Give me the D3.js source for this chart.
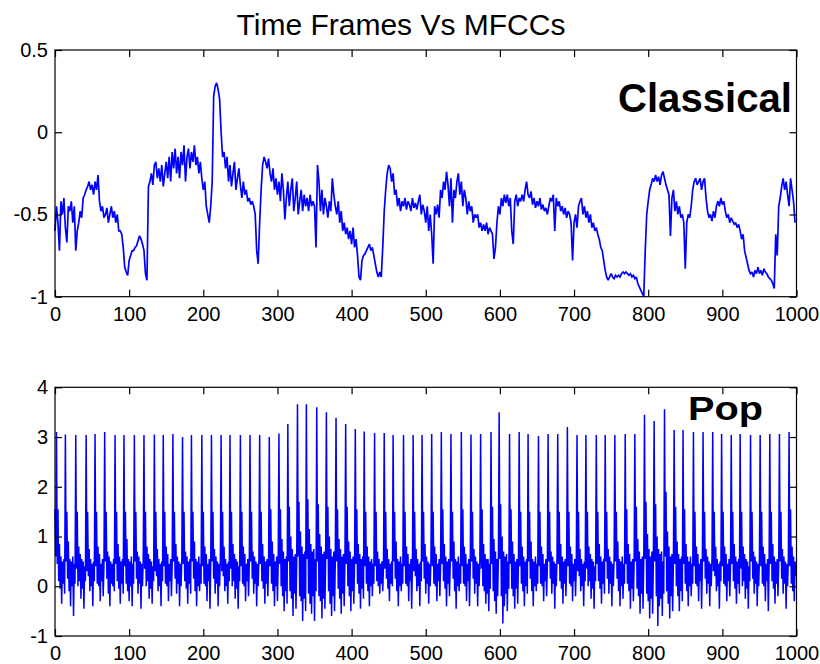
<!DOCTYPE html>
<html><head><meta charset="utf-8">
<script src="https://cdn.jsdelivr.net/npm/d3@7/dist/d3.min.js"></script>
<style>body{margin:0;background:#fff}svg{display:block}</style>
</head><body>
<script>
// ---------- data ----------
const chartTitle = "Time Frames Vs MFCCs";
const classicalStep = 2;           // classical: one sample every 2 time frames
const popStep = 1;                 // pop: one sample per time frame
const xTickValues = [0,100,200,300,400,500,600,700,800,900,1000];
const classicalTicks = [-1,-0.5,0,0.5];
const popTicks = [-1,0,1,2,3,4];
const classicalLabel = "Classical";
const popLabel = "Pop";

const classical = [
-0.60,-0.45,-0.55,-0.72,-0.42, -0.50,-0.40,-0.58,-0.67,-0.45,
-0.48,-0.42,-0.55,-0.45,-0.72, -0.60,-0.55,-0.48,-0.52,-0.40,
-0.38,-0.35,-0.33,-0.30,-0.35, -0.32,-0.38,-0.30,-0.35,-0.26,
-0.42,-0.48,-0.45,-0.52,-0.50, -0.46,-0.55,-0.50,-0.45,-0.52,
-0.48,-0.55,-0.50,-0.60,-0.60, -0.62,-0.70,-0.82,-0.85,-0.87,
-0.78,-0.75,-0.72,-0.72,-0.70, -0.69,-0.66,-0.63,-0.65,-0.68,
-0.72,-0.86,-0.90,-0.33,-0.30, -0.25,-0.32,-0.20,-0.18,-0.28,
-0.22,-0.30,-0.20,-0.33,-0.25, -0.18,-0.28,-0.15,-0.30,-0.12,
-0.22,-0.10,-0.25,-0.15,-0.28, -0.12,-0.20,-0.08,-0.30,-0.15,
-0.10,-0.22,-0.12,-0.18,-0.08, -0.20,-0.15,-0.25,-0.18,-0.28,
-0.35,-0.30,-0.45,-0.50,-0.55, -0.45,-0.30,0.22,0.28,0.30,
0.26,0.20,0.00,-0.15,-0.12, -0.22,-0.15,-0.30,-0.20,-0.33,
-0.25,-0.18,-0.35,-0.28,-0.22, -0.32,-0.40,-0.30,-0.38,-0.35,
-0.42,-0.40,-0.44,-0.42,-0.45, -0.50,-0.72,-0.80,-0.55,-0.35,
-0.20,-0.15,-0.18,-0.22,-0.16, -0.25,-0.30,-0.22,-0.35,-0.28,
-0.38,-0.30,-0.42,-0.25,-0.35, -0.53,-0.40,-0.30,-0.45,-0.35,
-0.28,-0.48,-0.40,-0.30,-0.50, -0.42,-0.35,-0.48,-0.38,-0.45,
-0.40,-0.48,-0.38,-0.45,-0.42, -0.45,-0.70,-0.20,-0.30,-0.48,
-0.35,-0.50,-0.40,-0.45,-0.52, -0.42,-0.48,-0.28,-0.38,-0.45,
-0.50,-0.42,-0.55,-0.48,-0.60, -0.55,-0.62,-0.58,-0.65,-0.60,
-0.68,-0.58,-0.70,-0.65,-0.75, -0.88,-0.90,-0.78,-0.75,-0.74,
-0.72,-0.70,-0.68,-0.72,-0.70, -0.75,-0.80,-0.85,-0.88,-0.85,
-0.88,-0.70,-0.48,-0.35,-0.25, -0.20,-0.22,-0.30,-0.25,-0.38,
-0.35,-0.45,-0.40,-0.48,-0.42, -0.45,-0.40,-0.47,-0.42,-0.44,
-0.48,-0.40,-0.46,-0.43,-0.47, -0.42,-0.38,-0.50,-0.44,-0.48,
-0.55,-0.45,-0.60,-0.50,-0.62, -0.80,-0.45,-0.50,-0.44,-0.52,
-0.35,-0.40,-0.30,-0.35,-0.24, -0.32,-0.45,-0.28,-0.55,-0.35,
-0.40,-0.30,-0.25,-0.38,-0.30, -0.45,-0.35,-0.40,-0.50,-0.42,
-0.48,-0.45,-0.55,-0.50,-0.52, -0.50,-0.58,-0.55,-0.60,-0.56,
-0.60,-0.55,-0.62,-0.58,-0.60, -0.62,-0.77,-0.70,-0.55,-0.45,
-0.50,-0.40,-0.45,-0.38,-0.43, -0.38,-0.45,-0.40,-0.60,-0.68,
-0.42,-0.38,-0.45,-0.40,-0.42, -0.38,-0.42,-0.35,-0.30,-0.38,
-0.40,-0.36,-0.44,-0.40,-0.46, -0.42,-0.45,-0.40,-0.47,-0.44,
-0.48,-0.46,-0.50,-0.45,-0.40, -0.42,-0.38,-0.60,-0.40,-0.45,
-0.42,-0.48,-0.45,-0.50,-0.46, -0.52,-0.48,-0.50,-0.55,-0.78,
-0.55,-0.50,-0.58,-0.45,-0.42, -0.40,-0.50,-0.45,-0.52,-0.48,
-0.55,-0.50,-0.58,-0.55,-0.60, -0.58,-0.62,-0.65,-0.70,-0.72,
-0.78,-0.84,-0.88,-0.90,-0.88, -0.86,-0.88,-0.89,-0.87,-0.88,
-0.87,-0.88,-0.86,-0.85,-0.86, -0.85,-0.86,-0.87,-0.86,-0.88,
-0.87,-0.89,-0.88,-0.92,-0.94, -0.96,-0.98,-1.00,-0.72,-0.50,
-0.42,-0.35,-0.32,-0.28,-0.30, -0.26,-0.30,-0.27,-0.32,-0.26,
-0.24,-0.28,-0.32,-0.35,-0.38, -0.63,-0.40,-0.35,-0.48,-0.42,
-0.50,-0.45,-0.52,-0.50,-0.55, -0.83,-0.55,-0.50,-0.52,-0.45,
-0.35,-0.30,-0.28,-0.32,-0.30, -0.28,-0.35,-0.30,-0.28,-0.40,
-0.48,-0.52,-0.50,-0.54,-0.48, -0.52,-0.45,-0.42,-0.45,-0.40,
-0.44,-0.42,-0.48,-0.52,-0.50, -0.55,-0.52,-0.54,-0.56,-0.55,
-0.58,-0.56,-0.60,-0.65,-0.62, -0.72,-0.76,-0.80,-0.84,-0.86,
-0.85,-0.88,-0.84,-0.86,-0.82, -0.86,-0.84,-0.87,-0.83,-0.85,
-0.86,-0.88,-0.89,-0.90,-0.92, -0.95,-0.62,-0.75,-0.45,-0.40,
-0.33,-0.28,-0.35,-0.30,-0.38, -0.45,-0.28,-0.35,-0.42,-0.55
];

// one row per beat: tall onset, secondary peak, then dense fluctuation
const pop = [
1.55,0.60,
3.10,0.45,1.55,0.10,0.85,-0.05,0.60,-0.35,0.50,0.05,0.55,-0.15,
3.05,0.50,1.50,0.15,0.90,-0.10,0.55,-0.40,0.50,0.00,0.60,-0.60,0.45,0.05,
3.04,0.35,1.50,0.00,0.80,0.10,0.65,-0.25,0.55,-0.05,0.50,-0.45,0.40,0.10,
3.04,0.30,1.50,0.20,0.75,-0.10,0.55,0.00,0.45,-0.40,0.50,0.10,
3.06,0.40,1.50,0.05,0.80,0.00,0.65,-0.30,0.45,0.10,0.55,-0.20,0.40,
3.10,0.50,1.50,0.15,0.70,-0.15,0.60,-0.40,0.50,0.05,0.45,0.00,0.55,-0.10,
3.04,0.45,1.50,0.10,0.85,-0.05,0.60,-0.35,0.50,0.05,0.55,-0.15,
3.04,0.40,1.50,0.05,0.95,-0.10,0.55,-0.30,0.50,0.00,0.60,-0.40,0.45,0.05,
3.04,0.50,1.50,0.15,0.70,-0.15,0.60,0.05,0.50,-0.45,0.45,0.00,0.55,
3.04,0.35,1.50,0.00,0.80,0.10,0.65,-0.25,0.55,-0.05,0.50,-0.35,0.40,0.10,
3.05,0.30,1.50,0.20,0.75,-0.10,0.55,0.00,0.45,-0.40,0.50,0.10,
3.04,0.40,1.50,0.05,0.80,0.00,0.65,-0.30,0.45,0.10,0.55,-0.20,0.40,
3.06,0.50,1.50,0.15,0.85,-0.15,0.60,0.05,0.50,-0.40,0.45,0.00,0.55,
3.00,0.45,1.50,0.10,0.70,-0.05,0.60,-0.35,0.50,0.05,0.55,-0.15,
3.04,0.50,1.50,0.15,0.90,-0.10,0.55,-0.40,0.50,0.00,0.60,-0.10,0.45,0.05,
3.04,0.40,1.50,0.05,0.80,0.00,0.65,-0.30,0.45,0.10,0.55,-0.45,0.40,
3.04,0.50,1.50,0.15,0.75,-0.15,0.60,0.05,0.50,-0.40,0.45,0.00,0.55,
3.04,0.30,1.50,0.20,0.80,-0.10,0.55,0.00,0.45,-0.35,0.50,0.10,
3.04,0.35,1.50,0.00,0.85,0.10,0.65,-0.25,0.55,-0.05,0.50,-0.45,0.40,0.10,
3.04,0.40,1.50,0.05,0.80,0.00,0.65,-0.30,0.45,0.10,0.55,-0.20,0.40,
3.04,0.50,1.50,0.15,0.70,-0.15,0.60,0.05,0.50,-0.40,0.45,0.00,0.55,
3.04,0.45,1.50,0.10,0.85,-0.05,0.60,-0.35,0.50,0.05,0.55,-0.20,0.45,
3.00,0.40,1.55,0.05,0.90,-0.10,0.65,-0.40,0.50,0.00,0.60,-0.30,0.45,
3.07,0.45,1.55,0.00,0.95,-0.20,0.70,-0.50,0.55,-0.10,0.60,-0.35,
3.26,0.50,1.60,-0.10,1.00,-0.25,0.75,-0.60,0.60,-0.15,0.65,-0.45,0.50,
3.66,0.60,1.70,-0.20,1.10,-0.30,0.80,-0.70,0.65,-0.25,0.70,-0.50,
3.66,0.55,1.75,-0.15,1.15,-0.35,0.85,-0.55,0.70,-0.20,0.75,-0.70,0.55,-0.10,
3.60,0.50,1.65,-0.20,1.05,-0.30,0.80,-0.65,0.65,-0.25,0.70,-0.45,0.55,
3.50,0.55,1.60,-0.10,1.00,-0.35,0.75,-0.60,0.60,-0.20,0.70,-0.50,0.50,
3.39,0.50,1.55,-0.05,0.95,-0.25,0.75,-0.55,0.60,-0.15,0.65,-0.40,0.50,
3.26,0.45,1.60,0.00,0.90,-0.20,0.70,-0.50,0.55,-0.10,0.60,-0.35,0.50,
3.16,0.45,1.55,0.05,0.85,-0.15,0.65,-0.45,0.55,-0.05,0.60,-0.25,
3.11,0.40,1.50,0.05,0.80,-0.10,0.60,-0.40,0.50,0.00,0.55,-0.20,0.45,0.05,
3.08,0.40,1.50,0.10,0.70,0.00,0.55,-0.15,0.45,0.05,0.50,-0.10,0.40,
3.08,0.35,1.50,0.15,0.75,-0.05,0.55,-0.30,0.45,0.05,0.50,0.00,
3.04,0.50,1.50,0.15,0.90,-0.10,0.55,-0.40,0.50,0.00,0.60,-0.10,0.45,0.05,
3.04,0.40,1.50,0.05,0.80,0.00,0.65,-0.30,0.45,0.10,0.55,-0.45,0.40,
3.04,0.30,1.50,0.20,0.75,-0.10,0.55,0.00,0.45,-0.40,0.50,0.10,
3.04,0.50,1.50,0.15,0.85,-0.15,0.60,0.05,0.50,-0.35,0.45,0.00,0.55,
3.06,0.40,1.50,0.05,0.80,0.00,0.65,-0.30,0.45,0.10,0.55,-0.20,0.40,
3.10,0.45,1.55,0.10,0.85,-0.05,0.60,-0.40,0.50,0.05,0.55,-0.20,0.45,
3.06,0.50,1.50,0.15,0.90,-0.10,0.55,-0.45,0.50,0.00,0.60,-0.10,0.45,0.05,
3.10,0.40,1.55,0.05,0.80,0.00,0.65,-0.30,0.45,0.10,0.55,-0.40,0.40,
3.05,0.50,1.50,0.15,0.75,-0.15,0.60,0.05,0.50,-0.40,0.45,0.00,0.55,
3.06,0.35,1.55,0.00,0.85,-0.10,0.65,-0.35,0.55,-0.15,0.55,-0.50,0.45,-0.05,
3.10,0.45,1.60,-0.10,0.95,-0.30,0.70,-0.55,0.55,-0.20,0.60,
3.50,0.55,1.65,-0.20,1.00,-0.75,0.70,-0.40,0.60,-0.15,0.65,-0.50,0.50,-0.05,
3.06,0.45,1.55,-0.05,0.90,-0.20,0.65,-0.45,0.50,-0.05,0.55,-0.35,0.45,
3.10,0.40,1.50,0.05,0.80,-0.10,0.60,-0.40,0.50,0.00,0.55,-0.15,
3.06,0.50,1.50,0.15,0.90,-0.10,0.55,-0.40,0.50,0.00,0.60,-0.10,0.45,0.05,
3.02,0.40,1.50,0.05,0.80,0.00,0.65,-0.30,0.45,0.10,0.55,-0.20,0.40,
3.06,0.50,1.50,0.15,0.70,-0.15,0.60,0.05,0.50,-0.45,0.45,0.00,0.55,
3.06,0.45,1.50,0.10,0.85,-0.05,0.60,-0.35,0.50,0.05,0.55,-0.20,0.45,
3.20,0.40,1.50,0.05,0.80,0.00,0.65,-0.30,0.45,0.10,0.55,-0.20,0.40,
3.04,0.30,1.50,0.20,0.75,-0.10,0.55,0.00,0.45,-0.40,0.50,0.10,
3.04,0.35,1.50,0.00,0.80,0.10,0.65,-0.25,0.55,-0.05,0.50,-0.45,0.40,0.10,
3.04,0.45,1.50,0.10,0.85,-0.05,0.60,-0.35,0.50,0.05,0.55,-0.15,
3.04,0.50,1.50,0.15,0.75,-0.15,0.60,0.05,0.50,-0.40,0.45,0.00,0.55,
3.04,0.50,1.50,0.15,0.90,-0.10,0.55,-0.40,0.50,0.00,0.60,-0.25,0.45,0.05,
3.06,0.45,1.55,0.05,0.85,-0.10,0.65,-0.45,0.50,-0.05,0.55,-0.30,0.45,
3.06,0.50,1.60,-0.05,0.95,-0.20,0.70,-0.55,0.55,-0.15,0.60,-0.45,0.50,
3.45,0.55,1.70,-0.15,1.05,-0.30,0.75,-0.65,0.60,-0.25,0.70,-0.55,0.55,
3.32,0.50,1.65,-0.20,1.00,-0.80,0.75,-0.40,0.65,-0.25,0.70,-0.60,0.50,-0.15,
3.56,0.60,1.90,-0.10,1.10,-0.35,0.80,-0.65,0.60,-0.20,0.65,-0.50,0.50,
3.14,0.45,1.60,0.00,0.90,-0.20,0.65,-0.50,0.55,-0.10,0.60,-0.30,
3.14,0.45,1.55,0.05,0.85,-0.10,0.60,-0.40,0.50,0.00,0.60,-0.20,0.45,0.05,
3.10,0.40,1.50,0.05,0.80,0.00,0.65,-0.30,0.45,0.10,0.55,-0.45,0.40,
3.10,0.50,1.50,0.15,0.75,-0.15,0.60,0.05,0.50,-0.40,0.45,0.00,0.55,
3.10,0.30,1.50,0.20,0.80,-0.10,0.55,0.00,0.45,-0.45,0.50,0.10,
3.06,0.40,1.50,0.05,0.80,0.00,0.65,-0.30,0.45,0.10,0.55,-0.20,0.40,
3.04,0.45,1.50,0.10,0.85,-0.05,0.60,-0.35,0.50,0.05,0.55,-0.15,
3.06,0.35,1.50,0.00,0.80,0.10,0.65,-0.25,0.55,-0.05,0.50,-0.45,0.40,0.10,
3.04,0.50,1.50,0.15,0.70,-0.15,0.60,0.05,0.50,-0.40,0.45,0.00,0.55,
3.04,0.40,1.50,0.05,0.80,0.00,0.65,-0.30,0.45,0.10,0.55,-0.50,0.40,
3.06,0.45,1.50,0.10,0.85,-0.05,0.60,-0.35,0.50,0.05,0.55,-0.20,0.45,
3.06,0.50,1.50,0.15,0.75,-0.15,0.60,0.05,0.50,-0.45,0.45,0.00,0.55,
3.10,0.40,1.55,0.05,0.80,-0.10,0.60,-0.30,0.50,0.20
];

// ---------- drawing ----------
const W = 820, H = 664;
const svg = d3.select("body").append("svg").attr("width", W).attr("height", H);
const FONT = "'Liberation Sans', Arial, Helvetica, sans-serif";
const blue = "#0000ff";

const x = d3.scaleLinear().domain([0, 1000]).range([55, 796.5]);

svg.append("text")
  .attr("x", 401).attr("y", 35)
  .attr("text-anchor", "middle")
  .attr("font-family", FONT).attr("font-size", 30)
  .attr("fill", "#000")
  .text(chartTitle);

function panel(values, step, yDomain, yTicks, top, bottom, label, labelCfg, lineWidth) {
  const y = d3.scaleLinear().domain(yDomain).range([bottom, top]);
  const g = svg.append("g");
  const fmt = d => String(d);
  const tickLen = 7;

  const line = d3.line()
    .x((d, i) => x(i * step))
    .y(d => y(d));
  g.append("path")
    .datum(values)
    .attr("d", line)
    .attr("fill", "none")
    .attr("stroke", blue)
    .attr("stroke-width", lineWidth)
    .attr("stroke-linejoin", "miter")
    .attr("stroke-miterlimit", 2);

  const styleAxis = sel => {
    sel.select(".domain").remove();
    sel.selectAll(".tick line").attr("stroke", "#000").attr("stroke-width", 1.2);
    sel.selectAll("text").attr("font-family", FONT).attr("font-size", 20).attr("fill", "#000");
  };

  g.append("g").attr("transform", `translate(0,${bottom})`)
    .call(d3.axisBottom(x).tickValues(xTickValues).tickSize(-tickLen).tickSizeOuter(0).tickPadding(10).tickFormat(fmt))
    .call(styleAxis);
  g.append("g").attr("transform", `translate(0,${top})`)
    .call(d3.axisTop(x).tickValues(xTickValues).tickSize(-tickLen).tickSizeOuter(0).tickFormat(""))
    .call(styleAxis);
  g.append("g").attr("transform", `translate(${x.range()[0]},0)`)
    .call(d3.axisLeft(y).tickValues(yTicks).tickSize(-tickLen).tickSizeOuter(0).tickPadding(7).tickFormat(fmt))
    .call(styleAxis);
  g.append("g").attr("transform", `translate(${x.range()[1]},0)`)
    .call(d3.axisRight(y).tickValues(yTicks).tickSize(-tickLen).tickSizeOuter(0).tickFormat(""))
    .call(styleAxis);

  g.append("rect")
    .attr("x", x.range()[0]).attr("y", top)
    .attr("width", x.range()[1] - x.range()[0]).attr("height", bottom - top)
    .attr("fill", "none").attr("stroke", "#000").attr("stroke-width", 1.2);

  g.append("text")
    .attr("x", labelCfg.x).attr("y", labelCfg.y)
    .attr("text-anchor", "start")
    .attr("font-family", FONT).attr("font-weight", "bold")
    .attr("font-size", labelCfg.size)
    .attr("textLength", labelCfg.len).attr("lengthAdjust", "spacingAndGlyphs")
    .attr("fill", "#000")
    .text(label);
}

panel(classical, classicalStep, [-1, 0.5], classicalTicks, 50, 296.7, classicalLabel,
      {x: 618, y: 112, size: 40, len: 174}, 1.7);
panel(pop, popStep, [-1, 4], popTicks, 387.3, 636, popLabel,
      {x: 688, y: 420, size: 34, len: 75}, 1.5);
</script>
</body></html>
